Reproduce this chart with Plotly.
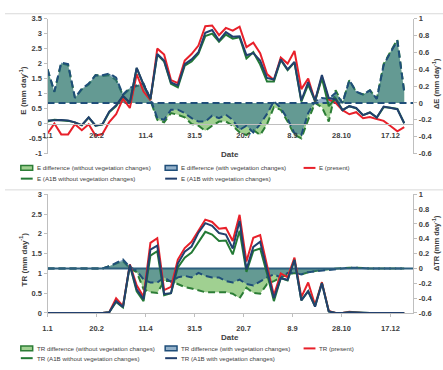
import plotly.graph_objects as go

# ---------------- data ----------------
days = list(range(1, 372, 7))  # weekly values, day of year
tick_days = [1, 51, 101, 151, 201, 251, 301, 351]
tick_labels = ["1.1", "20.2", "11.4", "31.5", "20.7", "8.9", "28.10", "17.12"]

e_present = [-0.33, 0.00, -0.36, -0.36, -0.02, -0.22, -0.02, -0.40, -0.35, 0.05,
             0.31, 0.83, 0.52, 1.65, 1.07, 0.78, 2.50, 2.30, 1.45, 1.35,
             2.10, 2.32, 2.60, 3.25, 3.27, 2.95, 3.19, 3.10, 3.23, 2.55,
             2.70, 2.35, 1.65, 1.45, 2.20, 2.00, 2.42, 1.15, 1.50, 0.75,
             1.56, 0.80, 0.69, 0.45, 0.31, 0.38, 0.18, 0.22, 0.15, 0.09,
             -0.08, -0.26, -0.12, -0.22]
e_a1b_noveg = [0.07, 0.13, 0.11, 0.09, 0.04, -0.06, 0.20, -0.07, -0.03, 0.38,
               0.58, 0.92, 0.69, 1.85, 1.29, 0.81, 2.30, 2.07, 1.33, 1.21,
               1.93, 2.07, 2.33, 2.92, 3.00, 2.73, 2.97, 2.83, 2.88, 2.17,
               2.38, 1.97, 1.40, 1.40, 2.12, 1.78, 2.04, 0.73, 1.30, 0.75,
               1.51, 0.58, 0.84, 0.45, 0.58, 0.51, 0.28, 0.37, 0.20, 0.55,
               0.53, 0.49, 0.01, -0.02]
e_a1b_veg = [0.10, 0.12, 0.12, 0.10, 0.04, -0.05, 0.21, -0.07, -0.02, 0.40,
             0.61, 0.93, 0.70, 1.86, 1.30, 0.83, 2.32, 2.10, 1.37, 1.27,
             1.98, 2.14, 2.38, 3.03, 3.12, 2.77, 3.05, 2.90, 2.91, 2.28,
             2.35, 2.10, 1.52, 1.47, 2.14, 1.81, 2.06, 0.77, 1.38, 0.77,
             1.62, 0.85, 0.81, 0.45, 0.58, 0.52, 0.28, 0.37, 0.20, 0.57,
             0.52, 0.48, 0.01, -0.02]
de_noveg = [0.40, 0.13, 0.47, 0.45, 0.06, 0.16, 0.22, 0.33, 0.32, 0.33,
            0.27, 0.09, 0.17, 0.20, 0.22, 0.03, -0.20, -0.23, -0.12, -0.14,
            -0.17, -0.25, -0.27, -0.33, -0.27, -0.22, -0.22, -0.27, -0.35, -0.38,
            -0.32, -0.38, -0.25, -0.05, -0.08, -0.22, -0.38, -0.42, -0.20, 0.00,
            -0.05, -0.22, 0.15, 0.00, 0.27, 0.13, 0.10, 0.15, 0.05, 0.46,
            0.61, 0.75, 0.13, 0.20]
de_veg = [0.40, 0.135, 0.48, 0.46, 0.06, 0.17, 0.23, 0.33, 0.33, 0.35,
          0.30, 0.10, 0.18, 0.21, 0.23, 0.05, -0.18, -0.20, -0.08, -0.08,
          -0.12, -0.18, -0.22, -0.22, -0.15, -0.18, -0.14, -0.20, -0.32, -0.27,
          -0.35, -0.25, -0.13, 0.02, -0.06, -0.19, -0.36, -0.38, -0.12, 0.02,
          0.06, 0.05, 0.12, 0.00, 0.27, 0.135, 0.10, 0.15, 0.05, 0.45,
          0.60, 0.74, 0.13, 0.20]

tr_present = [0, 0, 0, 0, 0, 0, 0, 0, 0, 0.02,
              0.37, 0.17, 1.23, 0.70, 0.41, 1.77, 1.89, 0.58, 0.66, 1.35,
              1.64, 1.80, 2.09, 2.36, 2.30, 2.13, 2.15, 1.82, 2.48, 1.30,
              1.90, 1.97, 1.20, 0.45, 1.00, 0.90, 1.40, 0.40, 0.77, 0.20,
              0.78, 0.05, 0, 0, 0.03, 0.01, 0, 0, 0, 0,
              0, 0, 0, 0]
tr_a1b_noveg = [0, 0, 0, 0, 0, 0, 0, 0, 0, 0.02,
                0.28, 0.14, 1.20, 0.55, 0.30, 1.45, 1.56, 0.45, 0.50, 1.15,
                1.40, 1.53, 1.80, 2.05, 1.98, 1.82, 1.83, 1.48, 2.08, 1.04,
                1.57, 1.63, 0.99, 0.30, 0.88, 0.82, 1.34, 0.32, 0.55, 0.17,
                0.76, 0.04, 0, 0, 0.02, 0.01, 0, 0, 0, 0,
                0, 0, 0, 0]
tr_a1b_veg = [0, 0, 0, 0, 0, 0, 0, 0, 0, 0.02,
              0.30, 0.15, 1.22, 0.60, 0.35, 1.60, 1.70, 0.48, 0.50, 1.25,
              1.55, 1.68, 2.03, 2.27, 2.20, 2.02, 1.98, 1.63, 2.33, 1.10,
              1.67, 1.80, 1.08, 0.38, 0.88, 0.84, 1.34, 0.32, 0.55, 0.16,
              0.75, 0.04, 0, 0, 0.02, 0.01, 0, 0, 0, 0,
              0, 0, 0, 0]
dtr_noveg = [0, 0, 0, 0, 0, 0, 0, 0, 0, 0.03,
             0.06, 0.10, 0.00, -0.05, -0.28, -0.32, -0.33, -0.17, -0.17, -0.21,
             -0.25, -0.27, -0.30, -0.32, -0.32, -0.32, -0.32, -0.34, -0.40, -0.26,
             -0.33, -0.34, -0.21, -0.17, -0.12, -0.08, -0.06, -0.08, -0.05, -0.03,
             -0.02, -0.01, 0, 0, 0.01, 0.01, 0, 0, 0, 0,
             0, 0, 0, 0]
dtr_veg = [0, 0, 0, 0, 0, 0, 0, 0, 0, 0.03,
           0.07, 0.12, 0.02, -0.03, -0.15, -0.19, -0.19, -0.12, -0.18, -0.12,
           -0.10, -0.12, -0.06, -0.10, -0.12, -0.12, -0.17, -0.19, -0.15, -0.21,
           -0.23, -0.17, -0.12, -0.08, -0.12, -0.06, -0.06, -0.08, -0.05, -0.04,
           -0.03, -0.01, 0, 0, 0.01, 0.01, 0, 0, 0, 0,
           0, 0, 0, 0]

e_ticks = [-1, -0.5, 0, 0.5, 1, 1.5, 2, 2.5, 3, 3.5]
e_ticktext = ["-1", "-0.5", "0", "0.5", "1", "1.5", "2", "2.5", "3", "3.5"]
tr_ticks = [0, 0.5, 1, 1.5, 2, 2.5, 3]
tr_ticktext = ["0", "0.5", "1", "1.5", "2", "2.5", "3"]
d_ticks = [-0.6, -0.4, -0.2, 0, 0.2, 0.4, 0.6, 0.8, 1]
d_ticktext = ["-0.6", "-0.4", "-0.2", "0", "0.2", "0.4", "0.6", "0.8", "1"]

legend_top = ["E difference (without vegetation changes)", "E difference (with vegetation changes)",
              "E (present)", "E (A1B without vegetation changes)", "E (A1B with vegetation changes)"]
legend_bot = ["TR difference (without vegetation changes)", "TR difference (with vegetation changes)",
              "TR (present)", "TR (A1B without vegetation changes)", "TR (A1B with vegetation changes)"]

# ---------------- style ----------------
W, H = 443, 370
def px(x):
    return x / W
def py(y):
    return 1 - y / H

RED = "#e8202a"
GREEN_LINE = "#237a35"
BLUE_LINE = "#22406e"
GREEN_FILL = "rgb(160,208,145)"
BLUE_FILL = "rgba(40,100,150,0.5)"
GREEN_DASH = "#2c7d36"
BLUE_DASH = "#1f4e79"
AXIS = "#bfbfbf"
TXT = "#404040"
FONT = "Liberation Sans"
DASH = "7px,4px"

x_dom = [px(43), px(413)]
xr = [1, 374.3]
top_dom = [py(153.3), py(15)]
bot_dom = [py(316.7), py(195)]
e_rng = [-1, 3.5]
tr_rng = [0, 3]
d_rng = [-0.6, 1]

fig = go.Figure()

def panel(xa, ya_d, ya_v, dn, dv, pres, a_no, a_veg, base_dash, base_col):
    fig.add_trace(go.Scatter(x=days, y=dn, xaxis=xa, yaxis=ya_d, mode="lines", fill="tozeroy",
                             fillcolor=GREEN_FILL, line=dict(color=GREEN_DASH, width=2, dash=DASH),
                             showlegend=False, hoverinfo="skip"))
    fig.add_trace(go.Scatter(x=days, y=dv, xaxis=xa, yaxis=ya_d, mode="lines", fill="tozeroy",
                             fillcolor=BLUE_FILL, line=dict(color=BLUE_DASH, width=2, dash=DASH),
                             showlegend=False, hoverinfo="skip"))
    fig.add_trace(go.Scatter(x=xr, y=[0, 0], xaxis=xa, yaxis=ya_d, mode="lines",
                             line=dict(color=base_col, width=2, dash=base_dash),
                             showlegend=False, hoverinfo="skip"))
    fig.add_trace(go.Scatter(x=days, y=pres, xaxis=xa, yaxis=ya_v, mode="lines",
                             line=dict(color=RED, width=2), showlegend=False))
    fig.add_trace(go.Scatter(x=days, y=a_no, xaxis=xa, yaxis=ya_v, mode="lines",
                             line=dict(color=GREEN_LINE, width=2), showlegend=False))
    fig.add_trace(go.Scatter(x=days, y=a_veg, xaxis=xa, yaxis=ya_v, mode="lines",
                             line=dict(color=BLUE_LINE, width=2), showlegend=False))

panel("x", "y", "y2", de_noveg, de_veg, e_present, e_a1b_noveg, e_a1b_veg, DASH, BLUE_DASH)
panel("x2", "y3", "y4", dtr_noveg, dtr_veg, tr_present, tr_a1b_noveg, tr_a1b_veg, "solid", "#2d5f7e")

tickfont = dict(family=FONT, size=7.5, color=TXT, weight="bold")
common_y = dict(showgrid=False, zeroline=False, showline=True, linecolor=AXIS, linewidth=1,
                ticks="outside", ticklen=3, tickcolor=AXIS, tickfont=tickfont, fixedrange=True)
xpos_top = top_dom[0] + (0 - e_rng[0]) / (e_rng[1] - e_rng[0]) * (top_dom[1] - top_dom[0])

fig.update_layout(
    width=W, height=H, margin=dict(l=0, r=0, t=0, b=0),
    paper_bgcolor="white", plot_bgcolor="white", showlegend=False,
    xaxis=dict(domain=x_dom, range=xr, anchor="free", position=xpos_top,
               tickvals=tick_days, ticktext=tick_labels, showgrid=False, zeroline=False,
               showline=True, linecolor=AXIS, ticks="", tickfont=tickfont, ticklabelstandoff=4),
    yaxis=dict(domain=top_dom, range=d_rng, side="right", anchor="x",
               tickvals=d_ticks, ticktext=d_ticktext, **common_y),
    yaxis2=dict(overlaying="y", range=e_rng, side="left", anchor="x",
                tickvals=e_ticks, ticktext=e_ticktext, **common_y),
    xaxis2=dict(domain=x_dom, range=xr, anchor="y3",
                tickvals=tick_days, ticktext=tick_labels, showgrid=False, zeroline=False,
                showline=True, linecolor=AXIS, ticks="outside", ticklen=3, tickcolor=AXIS,
                tickfont=tickfont, ticklabelstandoff=5),
    yaxis3=dict(domain=bot_dom, range=d_rng, side="right", anchor="x2",
                tickvals=d_ticks, ticktext=d_ticktext, **common_y),
    yaxis4=dict(overlaying="y3", range=tr_rng, side="left", anchor="x2",
                tickvals=tr_ticks, ticktext=tr_ticktext, **common_y),
)

shapes = []
annotations = []
for yb in (10, 190.5):
    shapes.append(dict(type="line", xref="paper", yref="paper", x0=0, x1=1, y0=py(yb), y1=py(yb),
                       line=dict(color="#d9d9d9", width=1)))

titlefont = dict(family=FONT, size=8, color=TXT, weight="bold")
rtitlefont = dict(family=FONT, size=7.5, color=TXT, weight="bold")
def ann(x, y, text, angle=0, font=titlefont, xanchor="center"):
    annotations.append(dict(x=px(x), y=py(y), xref="paper", yref="paper", text=text, showarrow=False,
                            textangle=angle, font=font, xanchor=xanchor, yanchor="middle"))

ann(228, 154, "Date")
ann(228, 342, "Date")
ann(18, 89, "E (mm day<sup>-1</sup>)", -90)
ann(18, 262, "TR (mm day<sup>-1</sup>)", -90)
ann(436, 82, "ΔE (mm day<sup>-1</sup>)", -90, font=rtitlefont)
ann(436, 245, "ΔTR (mm day<sup>-1</sup>)", -90, font=rtitlefont)

legfont = dict(family=FONT, size=6.2, color=TXT)
def legend(labels, y1, y2):
    slots = [(16, y1), (162, y1), (302, y1), (16, y2), (162, y2)]
    kinds = [("area", GREEN_FILL, GREEN_DASH), ("area", BLUE_FILL, BLUE_DASH), ("line", RED, None),
             ("line", GREEN_LINE, None), ("line", BLUE_LINE, None)]
    for (gx, gy), (kind, c1, c2), lab in zip(slots, kinds, labels):
        if kind == "area":
            shapes.append(dict(type="rect", xref="paper", yref="paper", x0=px(gx), x1=px(gx + 12),
                               y0=py(gy + 2.5), y1=py(gy - 2.5), fillcolor=c1,
                               line=dict(color=c2, width=1.5)))
        else:
            shapes.append(dict(type="line", xref="paper", yref="paper", x0=px(gx), x1=px(gx + 12),
                               y0=py(gy), y1=py(gy), line=dict(color=c1, width=2)))
        ann(gx + 14, gy, lab, font=legfont, xanchor="left")

legend(legend_top, 168, 179)
legend(legend_bot, 353, 363)

fig.update_layout(shapes=shapes, annotations=annotations)
fig.write_html("out.html")
